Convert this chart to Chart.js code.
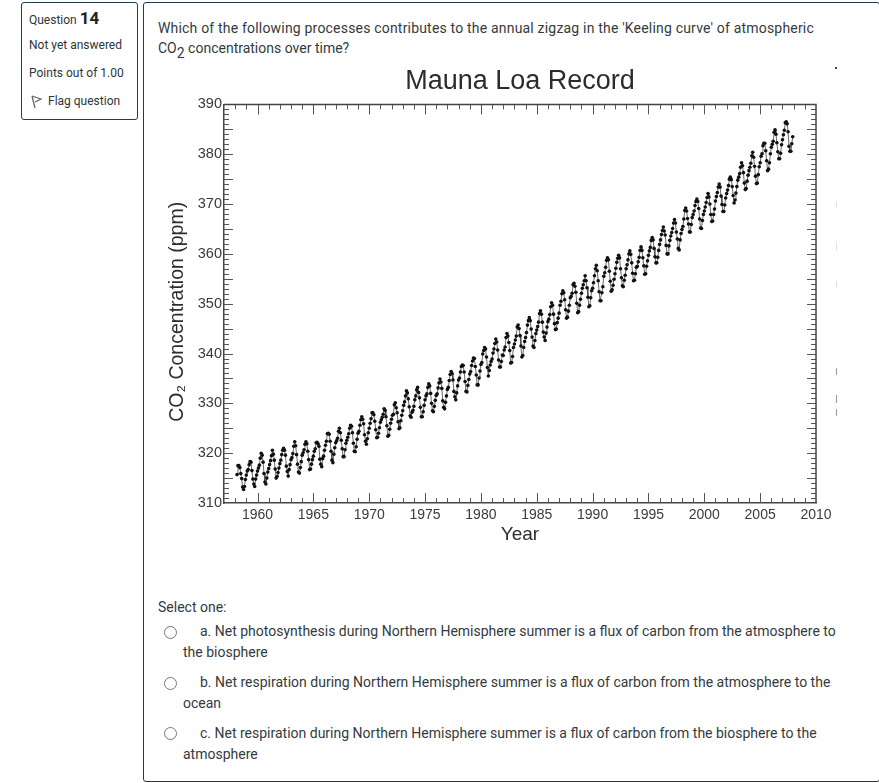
<!DOCTYPE html>
<html>
<head>
<meta charset="utf-8">
<title>Question 14</title>
<script src="https://cdn.jsdelivr.net/npm/chart.js@4"></script>
<style>
  html, body { margin: 0; padding: 0; background: #fff; }
  body { width: 879px; height: 783px; overflow: hidden; position: relative; font-family: Roboto, sans-serif; font-size: 14px; color: #343a40; }
  .box { position: absolute; box-sizing: border-box; border: 1px solid #1c3d52; border-radius: 3px; }
  .t { position: absolute; white-space: nowrap; line-height: 20px; }
  .small { font-size: 12px; color: #2f3438; }
  .radio { position: absolute; box-sizing: border-box; width: 13px; height: 13px; border: 1px solid #777; border-radius: 50%; }
  .sub2 { position: relative; top: 5px; font-size: 14px; line-height: 0; }
  .risco { position: absolute; left: 836px; width: 1px; }
  #wrap { position: absolute; left: 150px; top: 60px; width: 700px; height: 486px; }
</style>
</head>
<body>
<div class="box" style="left:21px;top:2px;width:117px;height:118px"></div>
<div class="box" style="left:143px;top:2px;width:737px;height:780px"></div>

<div class="t small" style="left:29px;top:8px">Question <b style="font-size:17px;color:#222">14</b></div>
<div class="t small" style="left:29px;top:35px">Not yet answered</div>
<div class="t small" style="left:29px;top:63px">Points out of 1.00</div>
<svg style="position:absolute;left:30px;top:95px" width="12" height="14" viewBox="0 0 12 14">
  <path d="M2 1 L11 4 L5 7 M2 1 L5 13" fill="none" stroke="#666" stroke-width="1.3"/>
</svg>
<div class="t small" style="left:48px;top:91px">Flag question</div>

<div class="t" style="left:158px;top:18px;letter-spacing:0.19px">Which of the following processes contributes to the annual zigzag in the 'Keeling curve' of atmospheric</div>
<div class="t" style="left:158px;top:38px">CO<span class="sub2">2</span> concentrations over time?</div>

<div id="wrap"><canvas id="grafico"></canvas></div>

<div class="risco" style="top:67px;height:2px;background:#444;width:2px;left:835px"></div>
<div class="risco" style="top:202px;height:6px;background:#e2e2e2"></div>
<div class="risco" style="top:243px;height:8px;background:#e2e2e2"></div>
<div class="risco" style="top:281px;height:7px;background:#e2e2e2"></div>
<div class="risco" style="top:368px;height:7px;background:#999"></div>
<div class="risco" style="top:395px;height:8px;background:#999"></div>
<div class="risco" style="top:409px;height:7px;background:#999"></div>

<div class="t" style="left:158px;top:597px">Select one:</div>
<div class="radio" style="left:164px;top:626px"></div>
<div class="t" style="left:200px;top:621px">a. Net photosynthesis during Northern Hemisphere summer is a flux of carbon from the atmosphere to</div>
<div class="t" style="left:183px;top:642px">the biosphere</div>
<div class="radio" style="left:164px;top:677px"></div>
<div class="t" style="left:200px;top:672px">b. Net respiration during Northern Hemisphere summer is a flux of carbon from the atmosphere to the</div>
<div class="t" style="left:183px;top:693px">ocean</div>
<div class="radio" style="left:164px;top:727px"></div>
<div class="t" style="left:200px;top:723px">c. Net respiration during Northern Hemisphere summer is a flux of carbon from the biosphere to the</div>
<div class="t" style="left:183px;top:744px">atmosphere</div>

<script>
// monthly CO2 (ppm), series starts March 1958
const startYear = 1958;
const startMonth = 2;

const co2Anos50 = [
  315.7, 317.5, 317.5, 317.1, 315.9, 314.9, 313.2, 312.7, 313.3, 314.7,
  315.6, 316.4, 316.7, 317.7, 318.3, 318.2, 316.5, 314.8, 313.8, 313.3, 314.8, 315.6
];
const co2Anos60 = [
  316.4, 317.0, 317.6, 319.0, 320.0, 319.6, 318.2, 315.9, 314.2, 313.8, 315.0, 316.2,
  316.9, 317.7, 318.5, 319.5, 320.6, 319.8, 318.6, 316.8, 315.0, 315.3, 316.1, 317.0,
  317.9, 318.6, 319.7, 320.6, 321.0, 320.6, 319.6, 317.4, 316.3, 315.4, 316.7, 317.7,
  318.7, 319.1, 319.9, 321.4, 322.3, 321.5, 319.7, 317.8, 316.2, 316.0, 317.1, 318.3,
  319.6, 320.1, 320.7, 321.8, 322.3, 321.9, 320.4, 318.7, 316.7, 316.8, 317.8, 318.7,
  319.4, 320.4, 320.9, 322.1, 322.2, 321.9, 321.4, 318.8, 317.8, 317.3, 318.9, 319.4,
  320.6, 321.6, 322.4, 323.9, 324.0, 323.8, 322.4, 320.4, 318.6, 318.1, 319.8, 321.1,
  322.1, 322.5, 323.0, 324.4, 325.0, 324.1, 322.6, 320.9, 319.3, 319.3, 320.7, 322.0,
  322.6, 323.2, 323.9, 325.0, 325.6, 325.4, 324.1, 322.0, 320.4, 320.3, 321.3, 322.8,
  324.0, 324.4, 325.6, 326.7, 327.3, 326.8, 325.9, 323.7, 322.4, 321.8, 322.9, 324.1
];
const co2Anos70 = [
  325.0, 326.0, 326.9, 328.1, 328.1, 327.7, 326.4, 324.7, 323.1, 323.2, 324.0, 325.1,
  326.2, 326.7, 327.2, 327.8, 328.9, 328.6, 327.3, 325.5, 323.4, 323.6, 324.8, 326.0,
  326.8, 327.6, 327.8, 329.7, 330.1, 329.1, 328.1, 326.3, 324.9, 325.1, 326.5, 327.6,
  328.5, 329.6, 330.3, 331.5, 332.5, 332.1, 330.9, 329.3, 327.5, 327.2, 328.2, 328.6,
  329.4, 330.7, 331.5, 332.7, 333.2, 332.2, 331.1, 329.2, 327.3, 327.3, 328.3, 329.6,
  330.7, 331.5, 331.9, 333.2, 333.9, 333.5, 332.0, 330.0, 328.5, 328.3, 329.4, 330.6,
  331.6, 331.9, 333.1, 334.1, 334.9, 334.3, 333.0, 330.5, 329.2, 328.9, 330.2, 331.5,
  332.8, 333.2, 334.6, 335.8, 336.4, 336.0, 334.7, 332.4, 331.3, 330.7, 332.1, 333.5,
  334.7, 335.1, 336.3, 337.4, 337.7, 337.6, 336.3, 334.4, 332.4, 332.3, 333.6, 334.8,
  335.9, 336.4, 337.6, 338.5, 339.1, 339.0, 337.4, 335.7, 333.7, 333.7, 335.1, 336.5
];
const co2Anos80 = [
  337.8, 338.2, 339.9, 340.6, 341.2, 340.9, 339.3, 337.2, 335.5, 336.6, 337.7, 338.4,
  338.9, 340.1, 340.9, 342.0, 342.9, 342.3, 340.7, 338.7, 337.3, 337.3, 338.4, 339.7,
  339.6, 340.7, 341.3, 343.2, 344.0, 343.5, 342.2, 340.6, 338.1, 338.2, 339.4, 341.2,
  341.9, 342.7, 343.5, 345.3, 345.7, 345.0, 343.6, 341.5, 339.3, 339.6, 341.2, 342.4,
  343.2, 344.2, 345.7, 346.6, 347.2, 346.6, 344.9, 343.3, 341.5, 341.2, 342.6, 344.0,
  344.7, 345.4, 346.3, 348.0, 348.6, 347.9, 346.3, 344.3, 343.3, 342.6, 344.1, 345.3,
  346.4, 346.9, 347.8, 349.4, 350.2, 349.7, 347.9, 346.0, 344.8, 344.9, 346.2, 347.1,
  348.1, 349.7, 350.5, 352.0, 352.6, 352.2, 350.8, 348.8, 347.1, 347.3, 348.5, 349.7,
  351.2, 351.5, 352.1, 353.8, 354.1, 353.5, 352.3, 350.1, 348.2, 348.4, 349.7, 350.9,
  352.1, 353.1, 353.8, 354.6, 355.6, 354.6, 353.2, 351.3, 349.4, 349.6, 351.2, 352.6
];
const co2Anos90 = [
  353.1, 354.2, 355.6, 357.0, 357.7, 356.6, 354.6, 352.4, 350.6, 350.6, 352.2, 353.4,
  355.5, 356.2, 357.3, 358.7, 359.2, 358.8, 356.5, 354.5, 352.5, 352.8, 353.7, 354.9,
  356.0, 357.1, 358.3, 359.1, 359.7, 359.2, 357.0, 355.2, 353.6, 353.4, 354.7, 355.7,
  357.0, 357.8, 358.8, 360.0, 360.6, 359.9, 358.2, 356.1, 354.6, 354.7, 356.0, 357.3,
  357.5, 358.4, 359.3, 360.7, 361.4, 360.7, 359.2, 357.6, 355.9, 356.0, 357.5, 358.6,
  359.7, 360.6, 361.3, 362.7, 363.3, 362.8, 361.1, 359.4, 358.2, 358.2, 359.3, 360.7,
  361.9, 362.8, 363.9, 364.7, 365.4, 364.6, 363.8, 361.7, 360.0, 360.0, 361.6, 362.7,
  363.6, 364.3, 365.1, 366.2, 366.9, 366.2, 364.4, 363.0, 361.1, 360.8, 362.8, 364.1,
  364.9, 365.5, 367.0, 368.7, 369.2, 368.6, 367.1, 366.0, 364.4, 364.4, 365.9, 367.3,
  367.9, 368.6, 369.7, 370.5, 371.0, 370.5, 369.1, 367.0, 365.2, 365.1, 366.7, 367.9
];
const co2Anos00 = [
  368.6, 369.4, 370.3, 371.3, 372.1, 371.4, 370.0, 367.9, 366.5, 366.6, 367.9, 369.0,
  370.6, 371.5, 372.3, 373.4, 374.0, 373.4, 371.6, 369.9, 368.5, 368.5, 369.8, 371.2,
  372.1, 372.8, 373.7, 375.0, 375.4, 374.9, 373.5, 371.7, 370.2, 370.8, 372.2, 373.5,
  374.8, 375.4, 376.1, 377.4, 378.3, 377.7, 376.3, 374.2, 372.9, 373.1, 374.6, 375.8,
  376.7, 377.4, 378.2, 379.7, 380.4, 379.4, 377.6, 375.6, 374.1, 374.2, 375.9, 377.5,
  378.3, 379.6, 380.1, 381.7, 382.2, 382.2, 380.7, 378.7, 376.7, 377.0, 378.3, 380.1,
  381.4, 382.0, 382.6, 384.4, 384.9, 384.0, 382.3, 380.5, 379.1, 379.1, 380.2, 381.9,
  382.9, 383.9, 384.8, 386.3, 386.5, 386.1, 384.5, 381.6, 380.6, 380.6, 382.1, 383.5
];

const anosEixo = [1960, 1965, 1970, 1975, 1980, 1985, 1990, 1995, 2000, 2005, 2010];
const ppmEixo = [310, 320, 330, 340, 350, 360, 370, 380, 390];

const cinza = '#3a3a3a';
const fonte = 'Liberation Sans, Arial, sans-serif';

const valores = [...co2Anos50, ...co2Anos60, ...co2Anos70, ...co2Anos80, ...co2Anos90, ...co2Anos00];
const pontos = valores.map((v, i) => ({ x: startYear + (startMonth + i) / 12, y: v }));

// small ticks pointing inwards on all four sides, plus the top and right frame
const marcasInternas = {
  id: 'marcasInternas',
  afterDatasetsDraw(chart) {
    const { ctx, chartArea: a, scales: { x, y } } = chart;
    ctx.save();
    ctx.strokeStyle = '#555';
    ctx.lineWidth = 1;
    ctx.beginPath();
    for (let ano = 1958; ano < 2010; ano++) {
      const px = Math.round(x.getPixelForValue(ano)) + 0.5;
      const len = ano % 5 === 0 ? 10 : 5;
      ctx.moveTo(px, a.bottom); ctx.lineTo(px, a.bottom - len);
      ctx.moveTo(px, a.top); ctx.lineTo(px, a.top + len);
    }
    for (let ppm = 311; ppm < 390; ppm++) {
      const py = Math.round(y.getPixelForValue(ppm)) + 0.5;
      const len = ppm % 5 === 0 ? 9 : 5;
      ctx.moveTo(a.left, py); ctx.lineTo(a.left + len, py);
      ctx.moveTo(a.right, py); ctx.lineTo(a.right - len, py);
    }
    ctx.stroke();
    ctx.strokeStyle = '#444';
    ctx.lineWidth = 1.5;
    ctx.beginPath();
    ctx.moveTo(a.left, a.top); ctx.lineTo(a.right, a.top); ctx.lineTo(a.right, a.bottom);
    ctx.stroke();
    ctx.restore();
  }
};

new Chart(document.getElementById('grafico'), {
  type: 'scatter',
  data: {
    datasets: [{
      data: pontos,
      showLine: true,
      borderColor: '#444',
      borderWidth: 0.8,
      pointRadius: 1.8,
      pointBackgroundColor: '#111',
      pointBorderWidth: 0
    }]
  },
  options: {
    responsive: true,
    maintainAspectRatio: false,
    animation: false,
    layout: { padding: { top: 0, right: 34, bottom: 0, left: 16 } },
    plugins: {
      legend: { display: false },
      tooltip: { enabled: false },
      title: {
        display: true,
        fullSize: false,
        text: 'Mauna Loa Record',
        color: '#2c2c2c',
        font: { family: fonte, size: 27, weight: 'normal' },
        padding: { top: 5, bottom: 7 }
      }
    },
    scales: {
      x: {
        type: 'linear',
        min: 1957,
        max: 2010,
        afterBuildTicks: s => { s.ticks = anosEixo.map(v => ({ value: v })); },
        afterFit: s => { s.height = 43; },
        border: { color: '#444', width: 1.5 },
        grid: { display: false, drawTicks: false },
        ticks: { color: cinza, maxRotation: 0, autoSkip: false, padding: 4, callback: v => String(v), font: { family: fonte, size: 14 } },
        title: { display: true, text: 'Year', color: '#2c2c2c', font: { family: fonte, size: 19 }, padding: { top: 2, bottom: 0 } }
      },
      y: {
        min: 310,
        max: 390,
        afterBuildTicks: s => { s.ticks = ppmEixo.map(v => ({ value: v })); },
        afterFit: s => { s.width = 58; },
        border: { color: '#444', width: 1.5 },
        grid: { display: false, drawTicks: false },
        ticks: { color: cinza, autoSkip: false, padding: 2, callback: v => String(v), font: { family: fonte, size: 14.5 } },
        title: { display: true, text: 'CO₂ Concentration (ppm)\u00a0\u00a0\u00a0', color: '#2c2c2c', font: { family: fonte, size: 19.5 }, padding: { top: 0, bottom: 0 } }
      }
    }
  },
  plugins: [marcasInternas]
});
</script>
</body>
</html>
